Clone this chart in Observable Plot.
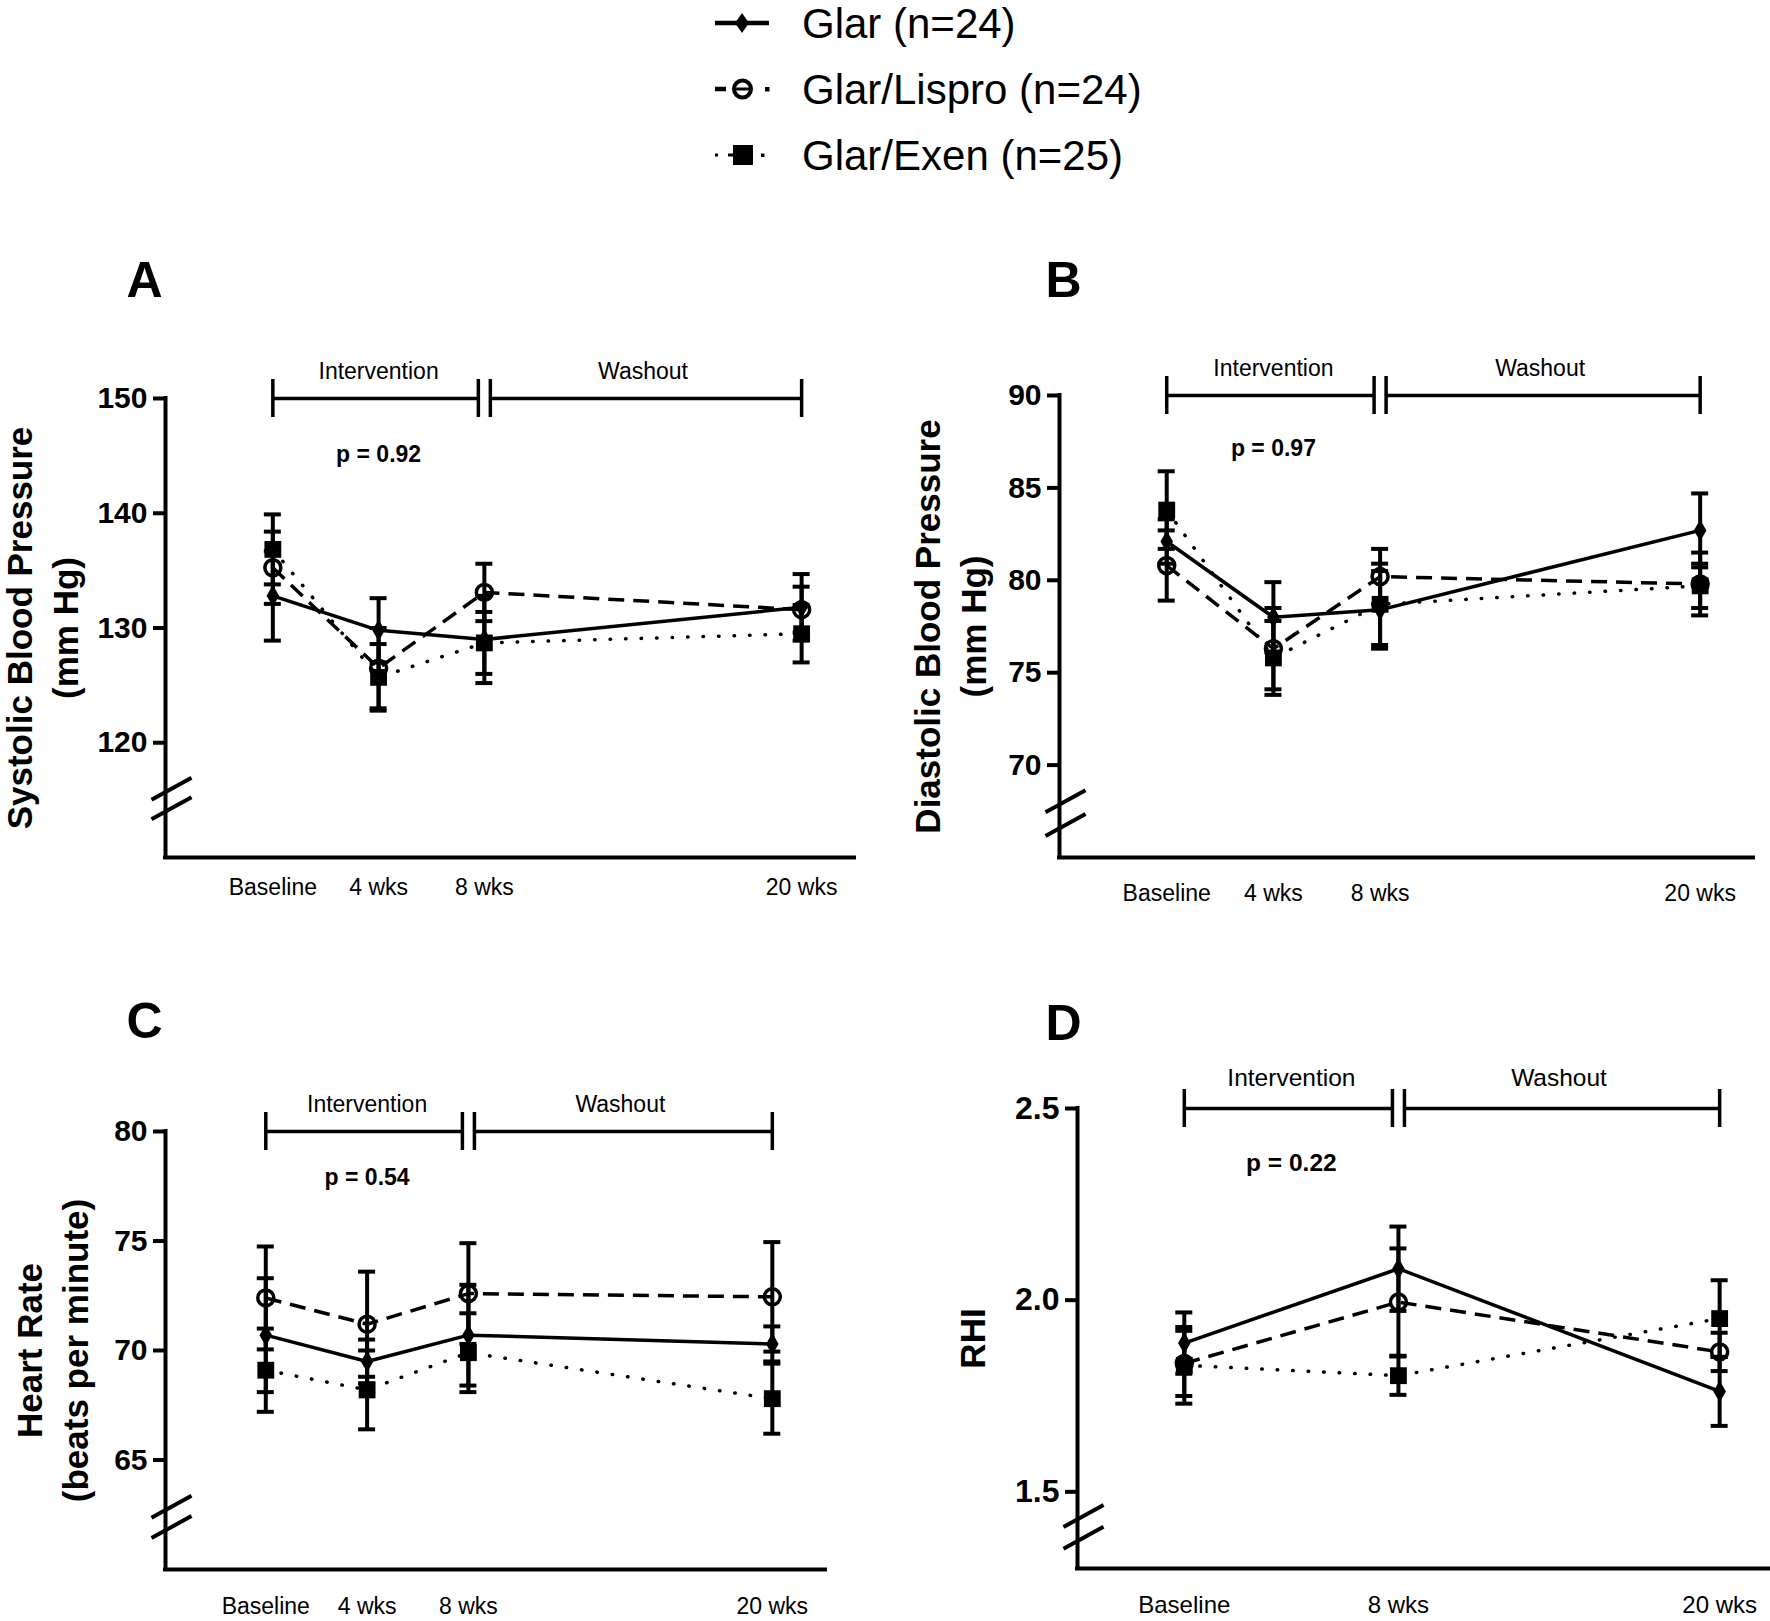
<!DOCTYPE html>
<html>
<head>
<meta charset="utf-8">
<script src="https://cdn.jsdelivr.net/npm/d3@7"></script>
<script src="https://cdn.jsdelivr.net/npm/@observablehq/plot@0.6"></script>
<style>
  html, body { margin: 0; padding: 0; background: #fff; }
  #root { position: relative; width: 1770px; height: 1621px; overflow: hidden; background: #fff;
          font-family: "Liberation Sans", Arial, Helvetica, sans-serif; color: #000; }
  .panel { position: absolute; }
  .panel svg { overflow: visible; }
  g[aria-label="y-axis tick label"] { font-weight: 700; }
</style>
</head>
<body>
<div id="root"></div>
<script>
// ---------------- DATA ----------------
const series = ["Glar (n=24)", "Glar/Lispro (n=24)", "Glar/Exen (n=25)"];
const weeks = [0, 4, 8, 20];
const weekLabels = ["Baseline", "4 wks", "8 wks", "20 wks"];
const weeksD = [0, 8, 20];
const weekLabelsD = ["Baseline", "8 wks", "20 wks"];

// A: Systolic blood pressure (mm Hg), mean and SEM
const sbpGlar = [132.8, 129.8, 129.0, 131.8];
const sbpGlarSem = [3.9, 2.8, 3.8, 2.9];
const sbpLispro = [135.25, 126.5, 133.1, 131.6];
const sbpLisproSem = [3.15, 3.5, 2.5, 2.0];
const sbpExen = [136.85, 125.7, 128.7, 129.5];
const sbpExenSem = [3.05, 2.9, 2.7, 2.5];
const sbpTicks = [120, 130, 140, 150];
const sbpBreak = [116.0, 114.3];

// B: Diastolic blood pressure (mm Hg)
const dbpGlar = [82.1, 78.0, 78.4, 82.7];
const dbpGlarSem = [1.2, 1.9, 2.1, 2.0];
const dbpLispro = [80.8, 76.3, 80.2, 79.8];
const dbpLisproSem = [1.9, 2.2, 1.5, 1.7];
const dbpExen = [83.8, 75.8, 78.7, 79.7];
const dbpExenSem = [2.1, 2.0, 2.2, 1.2];
const dbpTicks = [70, 75, 80, 85, 90];
const dbpBreak = [68.05, 66.76];

// C: Heart rate (beats per minute)
const hrGlar = [70.7, 69.5, 70.7, 70.3];
const hrGlarSem = [2.6, 1.0, 2.3, 0.8];
const hrLispro = [72.4, 71.2, 72.6, 72.45];
const hrLisproSem = [2.35, 2.4, 2.3, 2.5];
const hrExen = [69.1, 68.2, 69.9, 67.8];
const hrExenSem = [1.9, 1.8, 1.8, 1.6];
const hrTicks = [65, 70, 75, 80];
const hrBreak = [62.87, 61.94];

// D: RHI
const rhiGlar = [1.888, 2.082, 1.762];
const rhiGlarSem = [0.08, 0.11, 0.09];
const rhiLispro = [1.835, 1.995, 1.865];
const rhiLisproSem = [0.085, 0.14, 0.05];
const rhiExen = [1.83, 1.803, 1.952];
const rhiExenSem = [0.10, 0.05, 0.10];
const rhiTicks = [1.5, 2.0, 2.5];
const rhiBreak = [1.437, 1.38];

const phaseLabels = ["Intervention", "Washout"];
const phaseWeeks = [0, 8, 20];   // start, switch, end of follow-up

// ---------------- STYLE ----------------
const FONT = '"Liberation Sans", Arial, Helvetica, sans-serif';
const lineStyles = [
  {dash: null, cap: "butt"},
  {dash: "16,9", cap: "butt"},
  {dash: "0.5,15", cap: "round"}
];

function makePanel(cfg) {
  const {left, top, w, h, ml, mr, mt, mb, xDomain, yDomain, yTicks, yFmt,
         wk, wkLabels, data, breaks, pText, pDy, letter, letterPos, yLabel, yLabelX,
         xPad, fs} = cfg;
  const kx = (w - ml - mr) / (xDomain[1] - xDomain[0]);
  const ky = (h - mt - mb) / (yDomain[1] - yDomain[0]);
  const xs = px => px / kx, ys = px => px / ky;
  const x0 = xDomain[0], y0 = yDomain[0], yTop = yDomain[1];
  const rows = [];
  series.forEach((s, si) => wk.forEach((t, i) =>
    rows.push({series: s, si, week: t, mean: data[si][0][i], sem: data[si][1][i]})));
  const [pStart, pMid, pEnd] = phaseWeeks;
  const bw = xs(6), bh = ys(19), cw = xs(8.5);

  const marks = [
    // axes lines
    Plot.ruleX([x0], {x: d => d, y1: () => y0, y2: () => yTop, strokeWidth: 4, strokeLinecap: "square"}),
    Plot.ruleY([y0], {y: d => d, x1: () => x0, x2: () => xDomain[1], strokeWidth: 4, strokeLinecap: "square"}),
    Plot.axisY(yTicks, {tickSize: 12, tickPadding: 6, strokeWidth: 4, fontSize: fs.yTick, fontWeight: "bold",
                        label: null, tickFormat: yFmt}),
    Plot.axisX(wk, {tickSize: 0, tickPadding: xPad, fontSize: fs.xTick, label: null,
                    tickFormat: d => wkLabels[wk.indexOf(d)]}),
    // axis break
    Plot.link(breaks, {x1: () => x0 - xs(14), x2: () => x0 + xs(26),
                       y1: d => d - ys(11), y2: d => d + ys(11), strokeWidth: 4}),
    // phase bracket
    Plot.ruleY([[pStart, pMid - bw], [pMid + bw, pEnd]], {x1: d => d[0], x2: d => d[1], y: () => yTop, strokeWidth: 3.5}),
    Plot.ruleX([pStart, pMid - bw, pMid + bw, pEnd], {x: d => d, y1: () => yTop - bh, y2: () => yTop + bh, strokeWidth: 3.5}),
    Plot.text([[phaseLabels[0], (pStart + pMid) / 2], [phaseLabels[1], (pMid + pEnd) / 2]],
              {x: d => d[1], y: () => yTop, text: d => d[0], dy: fs.phaseDy, fontSize: fs.phase}),
    Plot.text([pText], {x: () => 4, y: () => yTop, dy: pDy, fontSize: fs.p, fontWeight: "bold"}),
    // panel letter
    Plot.text([letter], {frameAnchor: "top-left", dx: letterPos[0] - left - ml, dy: letterPos[1] - top - mt,
                         textAnchor: "middle", lineAnchor: "middle", fontSize: 50, fontWeight: "bold"}),
    // y label
    Plot.text([yLabel], {frameAnchor: "left", rotate: -90, dx: yLabelX - left - ml, fontSize: fs.yLabel,
                         textAnchor: "middle", lineAnchor: "middle", fontWeight: "bold", lineHeight: 1.3}),
    // error bars
    Plot.ruleX(rows, {x: "week", y1: d => d.mean - d.sem, y2: d => d.mean + d.sem, strokeWidth: 4}),
    Plot.ruleY(rows, {y: d => d.mean + d.sem, x1: d => d.week - cw, x2: d => d.week + cw, strokeWidth: 4}),
    Plot.ruleY(rows, {y: d => d.mean - d.sem, x1: d => d.week - cw, x2: d => d.week + cw, strokeWidth: 4}),
  ];
  series.forEach((s, si) => {
    marks.push(Plot.line(rows.filter(d => d.si === si), {x: "week", y: "mean", stroke: "black", strokeWidth: 3.5,
      strokeDasharray: lineStyles[si].dash, strokeLinecap: lineStyles[si].cap}));
  });
  marks.push(Plot.dot(rows.filter(d => d.si === 0), {x: "week", y: "mean", symbol: "diamond", r: 6.6, fill: "black"}));
  marks.push(Plot.dot(rows.filter(d => d.si === 1), {x: "week", y: "mean", symbol: "circle", r: 8, fill: "none", stroke: "black", strokeWidth: 3.5}));
  marks.push(Plot.dot(rows.filter(d => d.si === 2), {x: "week", y: "mean", symbol: "square", r: 9.5, fill: "black"}));

  const svg = Plot.plot({
    width: w, height: h, marginLeft: ml, marginRight: mr, marginTop: mt, marginBottom: mb,
    x: {domain: xDomain}, y: {domain: yDomain},
    style: {fontFamily: FONT, background: "transparent", color: "black", overflow: "visible"},
    marks
  });
  const div = document.createElement("div");
  div.className = "panel";
  div.style.left = left + "px";
  div.style.top = top + "px";
  div.appendChild(svg);
  document.getElementById("root").appendChild(div);
}

const fsABC = {yTick: 30, xTick: 23, phase: 23, phaseDy: -27, p: 23, yLabel: 35};
const fsD = {yTick: 32, xTick: 24, phase: 24.5, phaseDy: -30, p: 24.5, yLabel: 35};

makePanel({left: 0, top: 230, w: 880, h: 690, ml: 165, mr: 26, mt: 168, mb: 63,
  xDomain: [-4.06, 22.0], yDomain: [110, 150], yTicks: sbpTicks, yFmt: d => String(d),
  wk: weeks, wkLabels: weekLabels,
  data: [[sbpGlar, sbpGlarSem], [sbpLispro, sbpLisproSem], [sbpExen, sbpExenSem]],
  breaks: sbpBreak, pText: "p = 0.92", pDy: 56, letter: "A", letterPos: [144, 280],
  yLabel: "Systolic Blood Pressure\n(mm Hg)", yLabelX: 40, xPad: 21, fs: fsABC});

makePanel({left: 885, top: 230, w: 885, h: 690, ml: 174, mr: 17, mt: 165, mb: 63,
  xDomain: [-4.02, 22.0], yDomain: [65, 90], yTicks: dbpTicks, yFmt: d => String(d),
  wk: weeks, wkLabels: weekLabels,
  data: [[dbpGlar, dbpGlarSem], [dbpLispro, dbpLisproSem], [dbpExen, dbpExenSem]],
  breaks: dbpBreak, pText: "p = 0.97", pDy: 53, letter: "B", letterPos: [1063, 280],
  yLabel: "Diastolic Blood Pressure\n(mm Hg)", yLabelX: 948, xPad: 27, fs: fsABC});

makePanel({left: 0, top: 960, w: 880, h: 661, ml: 165, mr: 55, mt: 171, mb: 52,
  xDomain: [-3.96, 22.1], yDomain: [60, 80], yTicks: hrTicks, yFmt: d => String(d),
  wk: weeks, wkLabels: weekLabels,
  data: [[hrGlar, hrGlarSem], [hrLispro, hrLisproSem], [hrExen, hrExenSem]],
  breaks: hrBreak, pText: "p = 0.54", pDy: 46, letter: "C", letterPos: [144, 1021],
  yLabel: "Heart Rate\n(beats per minute)", yLabelX: 50, xPad: 28, fs: fsABC});

makePanel({left: 885, top: 960, w: 885, h: 661, ml: 192, mr: 0, mt: 148, mb: 53,
  xDomain: [-3.99, 21.9], yDomain: [1.3, 2.5], yTicks: rhiTicks, yFmt: d => d.toFixed(1),
  wk: weeksD, wkLabels: weekLabelsD,
  data: [[rhiGlar, rhiGlarSem], [rhiLispro, rhiLisproSem], [rhiExen, rhiExenSem]],
  breaks: rhiBreak, pText: "p = 0.22", pDy: 55, letter: "D", letterPos: [1063, 1023],
  yLabel: "RHI", yLabelX: 970, xPad: 27, fs: fsD});

// ---------------- LEGEND ----------------
(function legend() {
  const NS = "http://www.w3.org/2000/svg";
  const svg = document.createElementNS(NS, "svg");
  svg.setAttribute("width", 1770); svg.setAttribute("height", 190);
  svg.style.position = "absolute"; svg.style.left = "0px"; svg.style.top = "0px";
  const rowY = [23, 89, 155];
  const add = (tag, attrs) => { const e = document.createElementNS(NS, tag);
    for (const k in attrs) e.setAttribute(k, attrs[k]); svg.appendChild(e); return e; };
  // Glar: solid line + diamond
  add("line", {x1: 715, x2: 769, y1: rowY[0], y2: rowY[0], stroke: "black", "stroke-width": 4.5});
  add("path", {d: `M742,${rowY[0]-10}L749,${rowY[0]}L742,${rowY[0]+10}L735,${rowY[0]}Z`, fill: "black"});
  // Lispro: dash, open circle, dot
  add("line", {x1: 715, x2: 726, y1: rowY[1], y2: rowY[1], stroke: "black", "stroke-width": 4.5});
  add("line", {x1: 735, x2: 750, y1: rowY[1], y2: rowY[1], stroke: "black", "stroke-width": 3});
  add("circle", {cx: 742.5, cy: rowY[1], r: 8.5, fill: "none", stroke: "black", "stroke-width": 4});
  add("rect", {x: 765, y: rowY[1] - 2, width: 4.5, height: 4.5, fill: "black"});
  // Exen: dot, square, dot
  add("rect", {x: 715, y: rowY[2] - 1.5, width: 3, height: 3, fill: "black"});
  add("line", {x1: 728, x2: 734, y1: rowY[2], y2: rowY[2], stroke: "black", "stroke-width": 3});
  add("rect", {x: 733, y: rowY[2] - 10, width: 20, height: 20, fill: "black"});
  add("rect", {x: 761, y: rowY[2] - 1.5, width: 3.5, height: 3.5, fill: "black"});
  series.forEach((s, i) => {
    const t = add("text", {x: 802, y: rowY[i] + 15, "font-size": 42, "font-family": FONT, fill: "black"});
    t.textContent = s;
  });
  document.getElementById("root").appendChild(svg);
})();
</script>
</body>
</html>
